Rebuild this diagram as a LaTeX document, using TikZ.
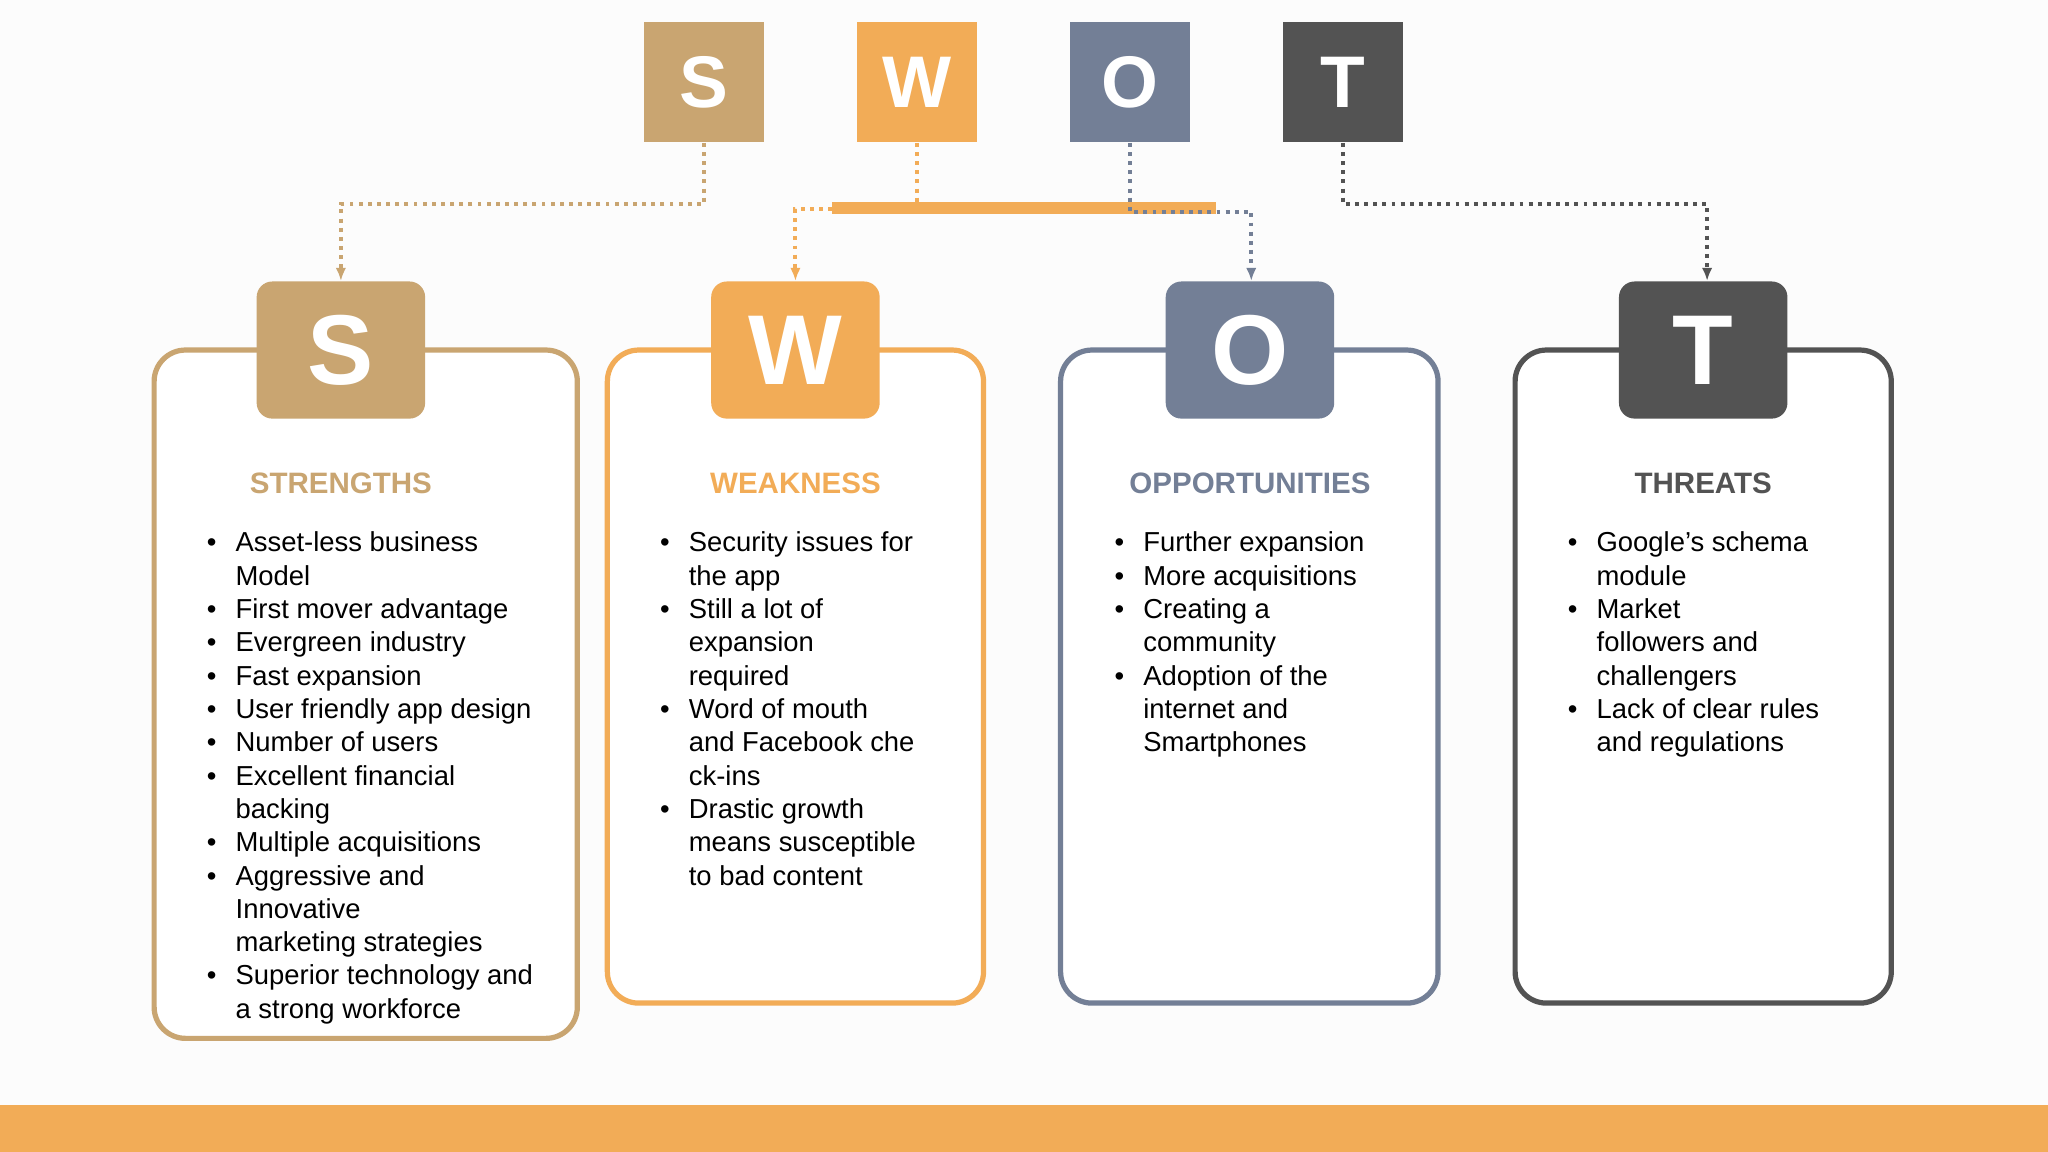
\documentclass[tikz,border=0pt]{standalone}
\usepackage{fontspec}
\setmainfont{Liberation Sans}
\usetikzlibrary{arrows.meta}
\begin{document}
\definecolor{cS}{HTML}{C9A571}
\definecolor{cW}{HTML}{F2AC57}
\definecolor{cO}{HTML}{737F96}
\definecolor{cT}{HTML}{535353}
\newcommand\bl{\makebox[11pt][l]{\textbullet}}
\newcommand\ct{\hspace*{11pt}}
\begin{tikzpicture}[x=0.5pt,y=-0.5pt,
  sq/.style={fill=#1,minimum size=46pt,inner sep=0,text=white,font=\bfseries\fontsize{28}{30}\selectfont},
  badge/.style={fill=#1,rounded corners=6pt,minimum width=64.5pt,minimum height=52.5pt,inner sep=0,text=white,font=\bfseries\fontsize{38}{40}\selectfont},
  card/.style={draw=#1,line width=2pt,rounded corners=12pt,fill=white},
  ttl/.style={text=#1,font=\bfseries\fontsize{11.3}{13}\selectfont},
  body/.style={align=left,anchor=north west,inner sep=0,font=\fontsize{10.5}{12.75}\selectfont,text=black},
  con/.style={draw=#1,line width=1.5pt,dotted,-{Latex[length=5pt,width=4pt]}}]
\useasboundingbox (0,0) rectangle (1568,882);
\fill[white!98!gray] (0,0) rectangle (1568,882);
\fill[cW] (0,846) rectangle (1568,882);
% top squares
\node[sq=cS] (s1) at (539,63) {S};
\node[sq=cW] (w1) at (702,63) {W};
\node[sq=cO] (o1) at (865,63) {O};
\node[sq=cT] (t1) at (1028,63) {T};
% cards
\draw[card=cS] (118,268) rectangle (442,795);
\draw[card=cW] (465,268) rectangle (753,768);
\draw[card=cO] (812,268) rectangle (1101,768);
\draw[card=cT] (1160,268) rectangle (1448,768);
\node[badge=cS] (s2) at (261,268) {S};
\node[badge=cW] (w2) at (609,268) {W};
\node[badge=cO] (o2) at (957,268) {O};
\node[badge=cT] (t2) at (1304,268) {T};
% bar
\fill[cW] (637,155) rectangle (931,164);
\coordinate (bar) at (702,155);
\coordinate (barl) at (637,160);
% connectors
\draw[con=cS] (s1.south) |- (261,156) -- (s2.north);
\draw[cW,line width=1.5pt,dotted] (w1.south) -- (bar);
\draw[con=cW] (barl) -- (609,160) -- (w2.north);
\draw[con=cO] (o1.south) |- (958,162) -- (o2.north-|958,0);
\draw[con=cT] (t1.south) |- (1307,156) -- (t2.north-|1307,0);
% titles
\node[ttl=cS] (st) at (261,370) {STRENGTHS};
\node[ttl=cW] (wt) at (609,370) {WEAKNESS};
\node[ttl=cO] (ot) at (957,370) {OPPORTUNITIES};
\node[ttl=cT] (tt) at (1304,370) {THREATS};
% bodies
\node[body] (sb) at (158,407) {\bl Asset-less business\\\ct Model\\\bl First mover advantage\\\bl Evergreen industry\\\bl Fast expansion\\\bl User friendly app design\\\bl Number of users\\\bl Excellent financial\\\ct backing\\\bl Multiple acquisitions\\\bl Aggressive and\\\ct Innovative\\\ct marketing strategies\\\bl Superior technology and\\\ct a strong workforce};
\node[body] (wb) at (505,407) {\bl Security issues for\\\ct the app\\\bl Still a lot of\\\ct expansion\\\ct required\\\bl Word of mouth\\\ct and Facebook che\\\ct ck-ins\\\bl Drastic growth\\\ct means susceptible\\\ct to bad content};
\node[body] (ob) at (853,407) {\bl Further expansion\\\bl More acquisitions\\\bl Creating a\\\ct community\\\bl Adoption of the\\\ct internet and\\\ct Smartphones};
\node[body] (tb) at (1200,407) {\bl Google’s schema\\\ct module\\\bl Market\\\ct followers and\\\ct challengers\\\bl Lack of clear rules\\\ct and regulations};
\end{tikzpicture}
\end{document}
